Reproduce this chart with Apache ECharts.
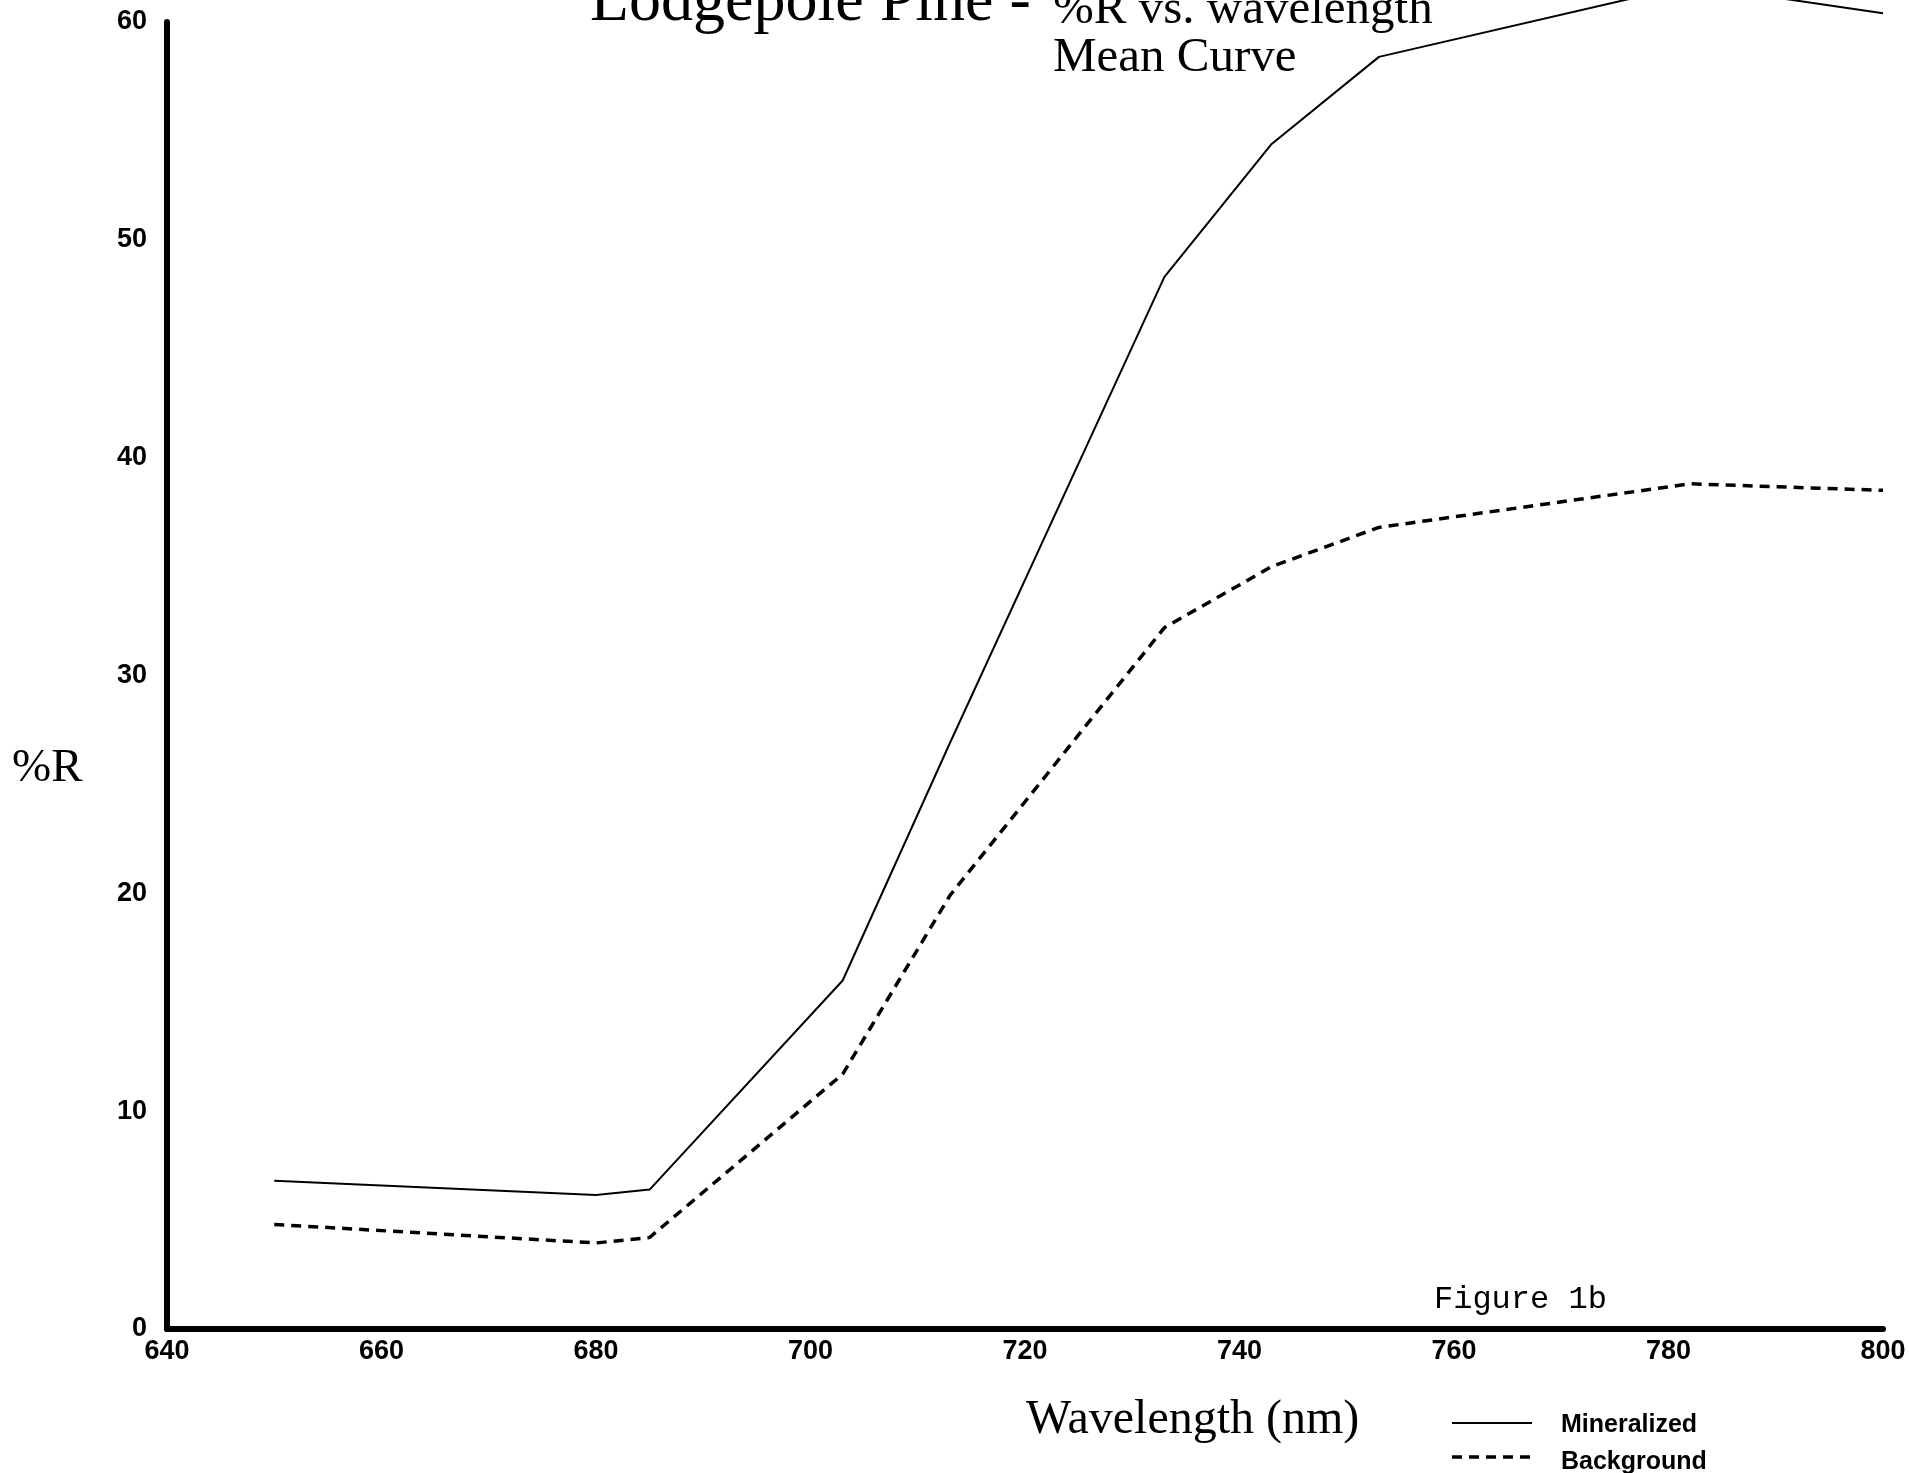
<!DOCTYPE html>
<html>
<head>
<meta charset="utf-8">
<script src="https://cdn.jsdelivr.net/npm/echarts@6/dist/echarts.min.js"></script>
<style>
html,body{margin:0;padding:0;background:#fff;}
#c{width:1909px;height:1473px;}
</style>
</head>
<body>
<div id="c"></div>
<script>
// Data
const wavelengths = [650, 680, 685, 703, 713, 733, 743, 753, 782, 800];
const mineralized = [6.8, 6.15, 6.4, 16.0, 26.9, 48.3, 54.4, 58.4, 61.7, 60.4];
const background  = [4.8, 3.95, 4.2, 11.7, 19.9, 32.2, 35.0, 36.8, 38.8, 38.5];
const seriesNames = ['Mineralized', 'Background'];
const xTicks = {min: 640, max: 800, interval: 20};
const yTicks = {min: 0, max: 60, interval: 10};

const pairs = (xs, ys) => xs.map((x, i) => [x, ys[i]]);

const chart = echarts.init(document.getElementById('c'), null, {renderer: 'canvas'});
const serif = '"Liberation Serif", "Times New Roman", serif';
const sans = '"Liberation Sans", Arial, Helvetica, sans-serif';
const dash = [10, 7];

chart.setOption({
  backgroundColor: '#fff',
  animation: false,
  grid: {left: 167, right: 26, top: 22, bottom: 144, containLabel: false},
  xAxis: {
    type: 'value', min: xTicks.min, max: xTicks.max, interval: xTicks.interval,
    axisLine: {show: true, onZero: false, lineStyle: {color: '#000', width: 6}},
    axisTick: {show: false},
    splitLine: {show: false},
    axisLabel: {color: '#000', fontFamily: sans, fontWeight: 'bold', fontSize: 27, margin: 9}
  },
  yAxis: {
    type: 'value', min: yTicks.min, max: yTicks.max, interval: yTicks.interval,
    axisLine: {show: true, lineStyle: {color: '#000', width: 6}},
    axisTick: {show: false},
    splitLine: {show: false},
    axisLabel: {color: '#000', fontFamily: sans, fontWeight: 'bold', fontSize: 27, margin: 20}
  },
  series: [
    {
      name: seriesNames[0], type: 'line', data: pairs(wavelengths, mineralized),
      symbol: 'none', clip: false,
      lineStyle: {color: '#000', width: 2, type: 'solid'},
      itemStyle: {color: '#000'}
    },
    {
      name: seriesNames[1], type: 'line', data: pairs(wavelengths, background),
      symbol: 'none', clip: false,
      lineStyle: {color: '#000', width: 3.5, type: dash},
      itemStyle: {color: '#000'}
    }
  ],
  graphic: [
    {type: 'text', left: 590, top: -29, style: {text: 'Lodgepole Pine - ', font: '64px ' + serif, fill: '#000'}},
    {type: 'text', left: 1053, top: -14, style: {text: '%R vs. wavelength', font: '49px ' + serif, fill: '#000'}},
    {type: 'text', left: 1053, top: 34, style: {text: 'Mean Curve', font: '49px ' + serif, fill: '#000'}},
    {type: 'text', left: 12, top: 745, style: {text: '%R', font: '47px ' + serif, fill: '#000'}},
    {type: 'text', left: 1026, top: 1396, style: {text: 'Wavelength (nm)', font: '48px ' + serif, fill: '#000'}},
    {type: 'text', left: 1434, top: 1284, style: {text: 'Figure 1b', font: '32px "Liberation Mono", "Courier New", monospace', fill: '#000'}},
    // legend
    {type: 'line', shape: {x1: 1452, y1: 1423, x2: 1532, y2: 1423}, style: {stroke: '#000', lineWidth: 2}},
    {type: 'line', shape: {x1: 1452, y1: 1457, x2: 1532, y2: 1457}, style: {stroke: '#000', lineWidth: 3.5, lineDash: dash}},
    {type: 'text', left: 1561, top: 1413, style: {text: seriesNames[0], font: 'bold 25px ' + sans, fill: '#000'}},
    {type: 'text', left: 1561, top: 1450, style: {text: seriesNames[1], font: 'bold 25px ' + sans, fill: '#000'}}
  ]
});
</script>
</body>
</html>
